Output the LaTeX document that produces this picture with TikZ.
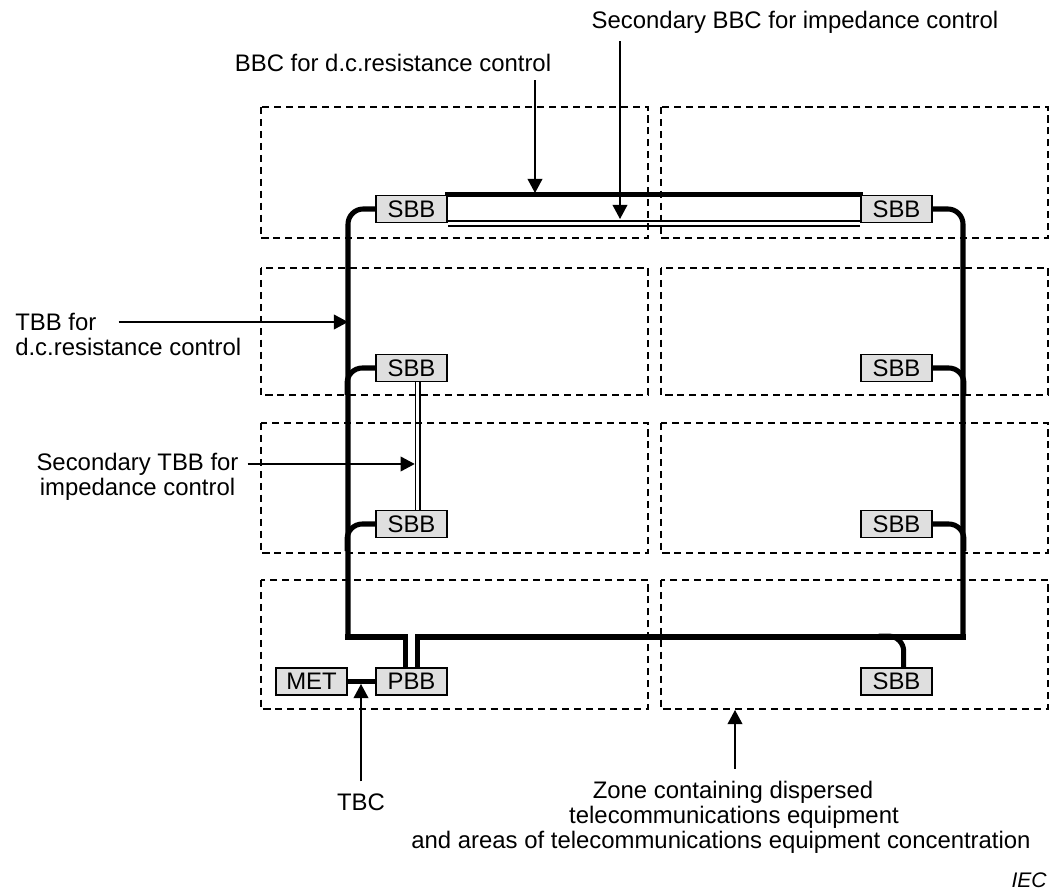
\documentclass[tikz,border=0pt]{standalone}
\usepackage{fontspec}
\setmainfont{Liberation Sans}
\usetikzlibrary{arrows.meta,backgrounds}

\begin{document}
\begin{tikzpicture}[x=0.025cm, y=-0.025cm,
	l/.style={font=\fontsize{17}{17.8}\selectfont, inner sep=0pt},
	zone/.style={dash pattern=on 5pt off 3.5pt, line width=0.75pt},
	bar/.style={draw, fill=gray!25, line width=1.3pt, minimum width=1.775cm, minimum height=0.675cm, inner sep=0pt, font=\fontsize{17}{18}\selectfont},
	bus/.style={line width=3.6pt, line cap=rect},
	tap/.style={line width=3.6pt, rounded corners=0.38cm},
	dbl/.style={double, line width=1.3pt, double distance=2.2pt},
	ptr/.style={->, line width=0.9pt},
	>={Triangle[length=10pt, width=10.5pt]}]
	\useasboundingbox (0,0) rectangle (1061,892);

	% zones
	\foreach \xa in {261,661}
		\foreach \ya/\yb in {107/238, 268/395, 423/553, 580/709}
			\draw[zone] (\xa,\ya) rectangle (\xa+387,\yb);

	% bars
	\node[bar] (sbbTL) at (411.5,209) {SBB};
	\node[bar] (sbbTR) at (896.5,209) {SBB};
	\node[bar] (sbbL2) at (411.5,368) {SBB};
	\node[bar] (sbbR2) at (896.5,368) {SBB};
	\node[bar] (sbbL3) at (411.5,524) {SBB};
	\node[bar] (sbbR3) at (896.5,524) {SBB};
	\node[bar] (sbbBR) at (896.5,681.5) {SBB};
	\node[bar] (pbb) at (411.5,681.5) {PBB};
	\node[bar] (met) at (311.5,681.5) {MET};

	\coordinate (bl) at (348,637);
	\coordinate (br) at (963,637);
	\coordinate (stbb) at ([xshift=0.16cm]sbbL2.south);

	\begin{pgfonlayer}{background}
	\draw[tap] (sbbTL.west) -| (bl);
	\draw[tap] (sbbTR.east) -| (br);
	\draw[bus] ([xshift=-0.15cm]pbb.north) |- (bl);
	\draw[bus] ([xshift=0.15cm]pbb.north) |- (br);
	\draw[tap] (sbbL2.west) -| ++(-28,27);
	\draw[tap] (sbbL3.west) -| ++(-28,27);
	\draw[tap] (sbbR2.east) -| ++(31,27);
	\draw[tap] (sbbR3.east) -| ++(31,27);
	\draw[tap] ([xshift=0.18cm]sbbBR.north) |- ++(-25,-31);
	\draw[bus] (met) -- (pbb);
	\draw[bus] (sbbTL.north east) -- (sbbTR.north west);
	\draw[dbl] (sbbTL.south east) -- (sbbTR.south west);
	\draw[dbl] (stbb) -- (stbb |- sbbL3.north);
	\end{pgfonlayer}

	% labels
	\node[l] (sbbctxt) at (795,22) {Secondary BBC for impedance control};
	\node[l] (bbctxt) at (393,63) {BBC for d.c.resistance control};
	\node[l, anchor=west] (tbb1) at (15,322) {TBB for};
	\node[l, anchor=west] (tbb2) at (15,347) {d.c.resistance control};
	\node[l] (stbb1) at (137.5,464) {Secondary TBB for};
	\node[l] (stbb2) at (137.5,489) {impedance control};
	\node[l] (tbctxt) at (361,802) {TBC};
	\node[l] (zone1) at (733,792) {Zone containing dispersed};
	\node[l] (zone2) at (734,817) {telecommunications equipment};
	\node[l] (zone3) at (721,842) {and areas of telecommunications equipment concentration};
	\node[l, anchor=east, font=\fontsize{15}{16}\selectfont\itshape] (iec) at (1047,880) {IEC};

	\coordinate (sbbcpt) at (620,219);
	\coordinate (bbcpt) at (535,193);
	\coordinate (tbcpt) at (361,684);
	\coordinate (zonept) at (735,710);
	\draw[ptr] ([yshift=-0.2cm]sbbcpt |- sbbctxt.south) -- (sbbcpt);
	\draw[ptr] ([yshift=-0.2cm]bbcpt |- bbctxt.south) -- (bbcpt);
	\draw[ptr] ([xshift=0.55cm]tbb1.east) -- (tbb1.east -| bl);
	\draw[ptr] ([xshift=0.22cm]stbb1.east) -- ([xshift=-0.08cm]stbb1.east -| stbb);
	\draw[ptr] ([yshift=0.3cm]tbcpt |- tbctxt.north) -- (tbcpt);
	\draw[ptr] ([yshift=0.3cm]zonept |- zone1.north) -- (zonept);
\end{tikzpicture}
\end{document}
